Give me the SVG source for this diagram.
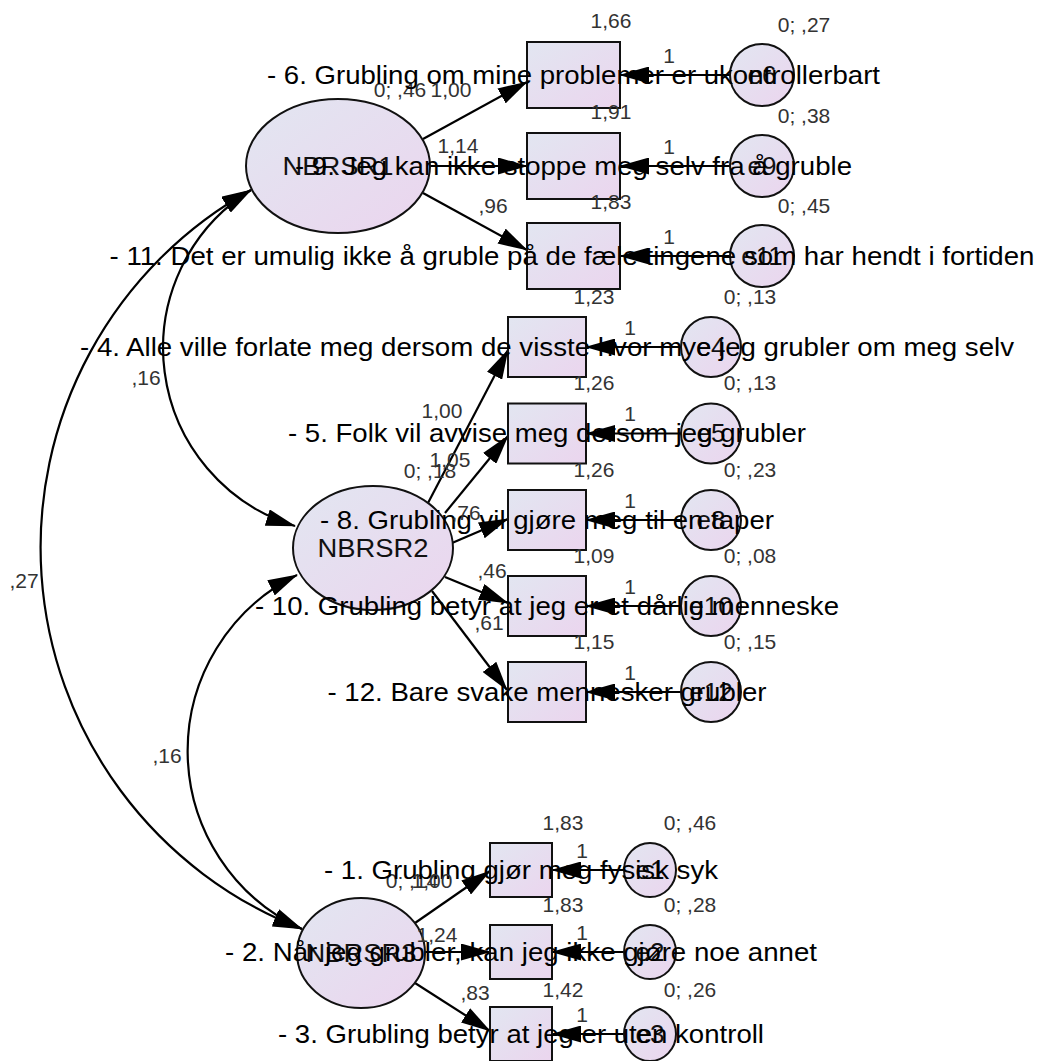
<svg xmlns="http://www.w3.org/2000/svg" width="1041" height="1061" viewBox="0 0 1041 1061">
  <defs>
    <linearGradient id="fillGrad" x1="0" y1="0" x2="1" y2="1">
      <stop offset="0" stop-color="#e2e6f1"/>
      <stop offset="1" stop-color="#ebd5ee"/>
    </linearGradient>
    <marker id="ah" viewBox="0 0 30 17" refX="29" refY="8.5" markerWidth="30" markerHeight="17" markerUnits="userSpaceOnUse" orient="auto-start-reverse">
      <path d="M0,0 L30,8.5 L0,17 z" fill="#000"/>
    </marker>
    <style>
      .shape { fill: url(#fillGrad); stroke: #111; stroke-width: 2; }
      .path { fill: none; stroke: #000; stroke-width: 2.2; marker-end: url(#ah); }
      .cov { fill: none; stroke: #000; stroke-width: 2.2; marker-start: url(#ah); marker-end: url(#ah); }
      .item { font-family: "Liberation Sans", Arial, sans-serif; font-size: 26px; fill: #000; text-anchor: middle; }
      .name { font-family: "Liberation Sans", Arial, sans-serif; font-size: 26px; fill: #111; text-anchor: middle; }
      .val { font-family: "Liberation Sans", Arial, sans-serif; font-size: 21px; fill: #333; text-anchor: middle; }
    </style>
  </defs>
  <rect width="1041" height="1061" fill="#fff"/>

  <!-- regression paths, error paths and covariances -->
  <g id="connectors">
    <path class="path" d="M423,139 L527,82"/>
    <path class="path" d="M430,166 L527,166"/>
    <path class="path" d="M423,193 L527,250"/>
    <path class="path" d="M428,503 L508,350"/>
    <path class="path" d="M445,513 L508,436"/>
    <path class="path" d="M452,543 L508,519"/>
    <path class="path" d="M445,577 L508,603"/>
    <path class="path" d="M432,591 L507,690"/>
    <path class="path" d="M415,923 L490,871"/>
    <path class="path" d="M425,952 L490,952"/>
    <path class="path" d="M415,983 L490,1031"/>
    <path class="path" d="M730,75 L620,75"/>
    <path class="path" d="M730,166 L620,166"/>
    <path class="path" d="M730,256 L620,256"/>
    <path class="path" d="M681,347 L586,347"/>
    <path class="path" d="M681,433.5 L586,433.5"/>
    <path class="path" d="M681,520 L586,520"/>
    <path class="path" d="M681,606 L586,606"/>
    <path class="path" d="M681,692 L586,692"/>
    <path class="path" d="M624,870 L552,870"/>
    <path class="path" d="M624,952 L552,952"/>
    <path class="path" d="M624,1034 L552,1034"/>
    <path class="cov" d="M251,190 A186,186 0 0 0 295,526"/>
    <path class="cov" d="M251,190 A409,409 0 0 0 302,929"/>
    <path class="cov" d="M297,575 A196,196 0 0 0 302,929"/>
  </g>

  <!-- latent factors -->
  <g id="NBRSR1">
    <ellipse class="shape" cx="338" cy="166" rx="92" ry="67"/>
    <text class="name" x="338" y="175" textLength="111" lengthAdjust="spacingAndGlyphs">NBRSR1</text>
    <text class="val" x="400" y="97">0; ,46</text>
  </g>
  <g id="NBRSR2">
    <ellipse class="shape" cx="373" cy="548" rx="80" ry="62"/>
    <text class="name" x="373" y="557" textLength="111" lengthAdjust="spacingAndGlyphs">NBRSR2</text>
    <text class="val" x="430" y="478">0; ,18</text>
  </g>
  <g id="NBRSR3">
    <ellipse class="shape" cx="361" cy="953" rx="64" ry="55"/>
    <text class="name" x="361" y="962" textLength="111" lengthAdjust="spacingAndGlyphs">NBRSR3</text>
    <text class="val" x="412" y="888">0; ,14</text>
  </g>

  <!-- error terms -->
  <g id="e6"><ellipse class="shape" cx="762" cy="75" rx="32" ry="31"/><text class="name" x="762" y="84">e6</text><text class="val" x="804" y="32">0; ,27</text></g>
  <g id="e9"><ellipse class="shape" cx="762" cy="166" rx="32" ry="31"/><text class="name" x="762" y="175">e9</text><text class="val" x="804" y="123">0; ,38</text></g>
  <g id="e11"><ellipse class="shape" cx="762" cy="256" rx="32" ry="31"/><text class="name" x="762" y="265">e11</text><text class="val" x="804" y="213">0; ,45</text></g>
  <g id="e4"><ellipse class="shape" cx="711" cy="347" rx="30" ry="30"/><text class="name" x="711" y="356">e4</text><text class="val" x="750" y="304">0; ,13</text></g>
  <g id="e5"><ellipse class="shape" cx="711" cy="433.5" rx="30" ry="30"/><text class="name" x="711" y="442">e5</text><text class="val" x="750" y="390">0; ,13</text></g>
  <g id="e8"><ellipse class="shape" cx="711" cy="520" rx="30" ry="30"/><text class="name" x="711" y="529">e8</text><text class="val" x="750" y="477">0; ,23</text></g>
  <g id="e10"><ellipse class="shape" cx="711" cy="606" rx="30" ry="30"/><text class="name" x="711" y="615">e10</text><text class="val" x="750" y="563">0; ,08</text></g>
  <g id="e12"><ellipse class="shape" cx="711" cy="692" rx="30" ry="30"/><text class="name" x="711" y="701">e12</text><text class="val" x="750" y="649">0; ,15</text></g>
  <g id="e1"><ellipse class="shape" cx="650" cy="870" rx="26" ry="27"/><text class="name" x="650" y="879">e1</text><text class="val" x="690" y="830">0; ,46</text></g>
  <g id="e2"><ellipse class="shape" cx="650" cy="952" rx="26" ry="27"/><text class="name" x="650" y="961">e2</text><text class="val" x="690" y="912">0; ,28</text></g>
  <g id="e3"><ellipse class="shape" cx="650" cy="1034" rx="26" ry="27"/><text class="name" x="650" y="1043">e3</text><text class="val" x="690" y="997">0; ,26</text></g>

  <!-- observed items -->
  <g id="item6">
    <rect class="shape" x="527" y="42" width="93" height="66"/>
    <text class="val" x="611" y="28">1,66</text>
    <text class="item" x="573.5" y="84" textLength="613" lengthAdjust="spacingAndGlyphs">- 6. Grubling om mine problemer er ukontrollerbart</text>
  </g>
  <g id="item9">
    <rect class="shape" x="527" y="133" width="93" height="66"/>
    <text class="val" x="611" y="119">1,91</text>
    <text class="item" x="573.5" y="175" textLength="557" lengthAdjust="spacingAndGlyphs">- 9. Jeg kan ikke stoppe meg selv fra å gruble</text>
  </g>
  <g id="item11">
    <rect class="shape" x="527" y="223" width="93" height="66"/>
    <text class="val" x="611" y="209">1,83</text>
    <text class="item" x="572" y="265" textLength="925" lengthAdjust="spacingAndGlyphs">- 11. Det er umulig ikke å gruble på de fæle tingene som har hendt i fortiden</text>
  </g>
  <g id="item4">
    <rect class="shape" x="508" y="317" width="78" height="60"/>
    <text class="val" x="594" y="304">1,23</text>
    <text class="item" x="547" y="356" textLength="934" lengthAdjust="spacingAndGlyphs">- 4. Alle ville forlate meg dersom de visste hvor mye jeg grubler om meg selv</text>
  </g>
  <g id="item5">
    <rect class="shape" x="508" y="403.5" width="78" height="60"/>
    <text class="val" x="594" y="390">1,26</text>
    <text class="item" x="547" y="442" textLength="518" lengthAdjust="spacingAndGlyphs">- 5. Folk vil avvise meg dersom jeg grubler</text>
  </g>
  <g id="item8">
    <rect class="shape" x="508" y="490" width="78" height="60"/>
    <text class="val" x="594" y="477">1,26</text>
    <text class="item" x="547" y="529" textLength="454" lengthAdjust="spacingAndGlyphs">- 8. Grubling vil gjøre meg til en taper</text>
  </g>
  <g id="item10">
    <rect class="shape" x="508" y="576" width="78" height="60"/>
    <text class="val" x="594" y="563">1,09</text>
    <text class="item" x="547" y="615" textLength="584" lengthAdjust="spacingAndGlyphs">- 10. Grubling betyr at jeg er et dårlig menneske</text>
  </g>
  <g id="item12">
    <rect class="shape" x="508" y="662" width="78" height="60"/>
    <text class="val" x="594" y="649">1,15</text>
    <text class="item" x="547" y="701" textLength="439" lengthAdjust="spacingAndGlyphs">- 12. Bare svake mennesker grubler</text>
  </g>
  <g id="item1">
    <rect class="shape" x="490" y="843" width="62" height="54"/>
    <text class="val" x="563" y="830">1,83</text>
    <text class="item" x="521" y="879" textLength="394" lengthAdjust="spacingAndGlyphs">- 1. Grubling gjør meg fysisk syk</text>
  </g>
  <g id="item2">
    <rect class="shape" x="490" y="925" width="62" height="54"/>
    <text class="val" x="563" y="912">1,83</text>
    <text class="item" x="521" y="961" textLength="592" lengthAdjust="spacingAndGlyphs">- 2. Når jeg grubler, kan jeg ikke gjøre noe annet</text>
  </g>
  <g id="item3">
    <rect class="shape" x="490" y="1007" width="62" height="54"/>
    <text class="val" x="563" y="997">1,42</text>
    <text class="item" x="521" y="1043" textLength="486" lengthAdjust="spacingAndGlyphs">- 3. Grubling betyr at jeg er uten kontroll</text>
  </g>

  <!-- path coefficients and covariance values -->
  <g id="connector-labels">
    <text class="val" x="451" y="97">1,00</text>
    <text class="val" x="458" y="153">1,14</text>
    <text class="val" x="493" y="213">,96</text>
    <text class="val" x="442" y="418">1,00</text>
    <text class="val" x="450" y="467">1,05</text>
    <text class="val" x="466" y="520">,76</text>
    <text class="val" x="492" y="578">,46</text>
    <text class="val" x="489" y="630">,61</text>
    <text class="val" x="432" y="888">1,00</text>
    <text class="val" x="437" y="942">1,24</text>
    <text class="val" x="475" y="1000">,83</text>
    <text class="val" x="669" y="63">1</text>
    <text class="val" x="669" y="154">1</text>
    <text class="val" x="669" y="244">1</text>
    <text class="val" x="630" y="335">1</text>
    <text class="val" x="630" y="421">1</text>
    <text class="val" x="630" y="508">1</text>
    <text class="val" x="630" y="594">1</text>
    <text class="val" x="630" y="680">1</text>
    <text class="val" x="582" y="858">1</text>
    <text class="val" x="582" y="940">1</text>
    <text class="val" x="582" y="1022">1</text>
    <text class="val" x="24" y="588">,27</text>
    <text class="val" x="146" y="385">,16</text>
    <text class="val" x="167" y="763">,16</text>
  </g>
</svg>
